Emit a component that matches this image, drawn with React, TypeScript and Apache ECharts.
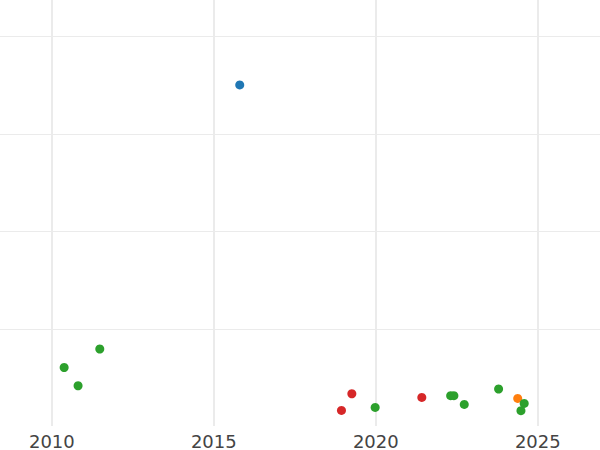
import React, { useEffect, useRef } from "react";
import * as echarts from "echarts";

const xTicks = [2010, 2015, 2020, 2025];
const yTicks = [1, 2, 3, 4];
const blueYears = [2015.8];
const blueValues = [3.5];
const orangeYears = [2024.38];
const orangeValues = [0.292];
const greenYears = [2010.38, 2010.81, 2011.48, 2019.98, 2022.31, 2022.41, 2022.73, 2023.79, 2024.58, 2024.48];
const greenValues = [0.609, 0.422, 0.798, 0.2, 0.32, 0.32, 0.231, 0.389, 0.241, 0.167];
const redYears = [2018.94, 2019.26, 2021.42];
const redValues = [0.17, 0.34, 0.303];

const zip = (xs: number[], ys: number[]) => xs.map((x, i) => [x, ys[i]]);

export default function App() {
  const ref = useRef<HTMLDivElement>(null);
  useEffect(() => {
    if (!ref.current) return;
    const chart = echarts.init(ref.current, null, { renderer: "svg" });
    const mk = (name: string, color: string, xs: number[], ys: number[]) => ({
      name,
      type: "scatter",
      data: zip(xs, ys),
      symbolSize: 9,
      itemStyle: { color, opacity: 1 },
    });
    chart.setOption({
      animation: false,
      backgroundColor: "#ffffff",
      grid: { left: 0, right: 0, top: 0, bottom: 23, containLabel: false },
      xAxis: {
        type: "value",
        min: 2008.4,
        max: 2026.92,
        axisLine: { show: true, lineStyle: { color: "#ffffff", width: 2 } },
        axisTick: { show: false, customValues: xTicks },
        axisLabel: {
          show: true,
          color: "#444444",
          fontSize: 18,
          fontFamily: "DejaVu Sans",
          margin: 5,
          customValues: xTicks,
          formatter: (v: number) => String(v),
        },
        splitLine: { show: true, lineStyle: { color: "#ebebeb", width: 2 } },
      },
      yAxis: {
        type: "value",
        min: 0,
        max: 4.369,
        axisLine: { show: false },
        axisTick: { show: false, customValues: yTicks },
        axisLabel: { show: false, customValues: yTicks },
        splitLine: { show: true, lineStyle: { color: "#ebebeb", width: 1 } },
      },
      series: [
        mk("blue", "#1f77b4", blueYears, blueValues),
        mk("orange", "#ff7f0e", orangeYears, orangeValues),
        mk("green", "#2ca02c", greenYears, greenValues),
        mk("red", "#d62728", redYears, redValues),
      ],
    });
    return () => chart.dispose();
  }, []);
  return (
    <div
      ref={ref}
      style={{ position: "fixed", left: 0, top: 0, width: 600, height: 450 }}
    />
  );
}
